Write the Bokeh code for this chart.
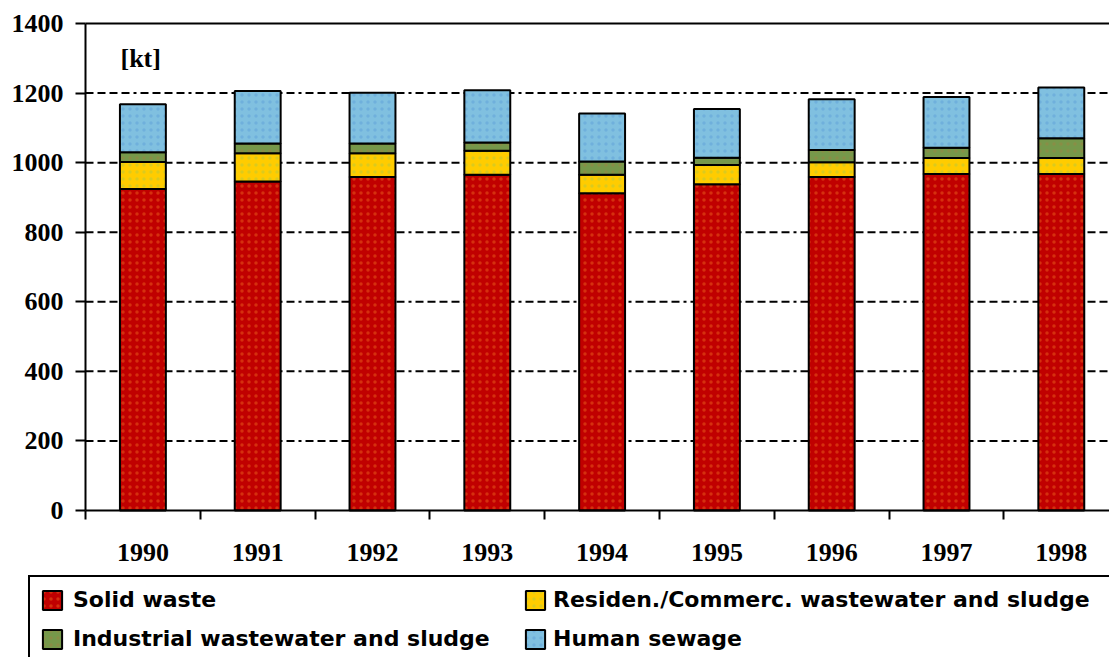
from bokeh.plotting import figure
from bokeh.models import (FixedTicker, Legend, LegendItem, Label, Range1d,
                          BasicTickFormatter)
from bokeh.embed import file_html
from bokeh.resources import INLINE

# ---- data ----
years = [1990, 1991, 1992, 1993, 1994, 1995, 1996, 1997, 1998]
solid_waste = [924, 946, 959, 965, 912, 938, 959, 967, 967]
residen_commerc = [78, 81, 68, 69, 53, 55, 42, 46, 46]
industrial = [28, 28, 28, 24, 38, 21, 35, 30, 57]
human_sewage = [138, 151, 146, 150, 138, 140, 146, 146, 146]
series_names = ["Solid waste", "Residen./Commerc. wastewater and sludge",
                "Industrial wastewater and sludge", "Human sewage"]
series_keys = ["solid", "residen", "industrial", "human"]
colors = ["#C00000", "#FFCC00", "#76984A", "#80C0E0"]
dot_colors = ["#F06A20", "#B0C840", "#A08040", "#5A9ED8"]
y_ticks = [0, 200, 400, 600, 800, 1000, 1200, 1400]
unit_label = "[kt]"

data = dict(year=years, solid=solid_waste, residen=residen_commerc,
            industrial=industrial, human=human_sewage)

# ---- layout (pixels) ----
W, H = 1109, 657
axis_left_px = 85          # y axis position
cat_px = 114.8             # width of one category
top_px, zero_px = 23, 510  # pixel rows of 1400 and 0
px_per_unit = (zero_px - top_px) / y_ticks[-1]

x_start = years[0] - 0.5 - axis_left_px / cat_px
x_end = x_start + W / cat_px
y_end = y_ticks[-1] + top_px / px_per_unit
y_start = -(H - zero_px) / px_per_unit

p = figure(width=W, height=H, output_backend="svg", toolbar_location=None,
           x_range=Range1d(x_start, x_end), y_range=Range1d(y_start, y_end),
           min_border=0)
p.outline_line_color = None
p.background_fill_color = "white"
p.border_fill_color = "white"
p.xgrid.visible = False
p.ygrid.visible = False

# grid lines and top border (start at the y axis)
grid_vals = y_ticks[1:-1]
p.segment(x0=[years[0] - 0.5] * len(grid_vals), x1=[x_end] * len(grid_vals),
          y0=grid_vals, y1=grid_vals, line_color="black", line_width=2,
          line_dash="8 4 8 4 8 4 8 4 3 4")
p.segment(x0=[years[0] - 0.5], x1=[x_end], y0=[y_ticks[-1]], y1=[y_ticks[-1]],
          line_color="black", line_width=2)

renderers = p.vbar_stack(series_keys, x="year", width=0.4, source=data,
                         fill_color=colors, line_color="black", line_width=2,
                         hatch_pattern="dot", hatch_color=dot_colors,
                         hatch_alpha=0.45, hatch_scale=7, hatch_weight=1.2)

# x axis: labels at centers, ticks at boundaries
xa = p.xaxis[0]
xa.fixed_location = 0
xa.bounds = (years[0] - 0.5, x_end)
xa.ticker = FixedTicker(ticks=years, minor_ticks=[y - 0.5 for y in years])
xa.formatter = BasicTickFormatter(use_scientific=False)
xa.major_tick_out = 0
xa.major_tick_in = 0
xa.minor_tick_out = 9
xa.minor_tick_in = 0
xa.minor_tick_line_width = 2
xa.minor_tick_line_color = "black"
xa.axis_line_width = 2
xa.axis_line_color = "black"
xa.major_label_standoff = 24
xa.major_label_text_font = "Liberation Serif"
xa.major_label_text_font_style = "bold"
xa.major_label_text_font_size = "26px"
xa.major_label_text_color = "black"

ya = p.yaxis[0]
ya.fixed_location = years[0] - 0.5
ya.bounds = (0, y_ticks[-1])
ya.ticker = FixedTicker(ticks=y_ticks)
ya.major_tick_out = 10
ya.major_tick_in = 0
ya.major_tick_line_width = 2
ya.minor_tick_line_color = None
ya.axis_line_width = 2
ya.axis_line_color = "black"
ya.major_label_standoff = 12
ya.major_label_text_font = "Liberation Serif"
ya.major_label_text_font_style = "bold"
ya.major_label_text_font_size = "26px"
ya.major_label_text_color = "black"

p.add_layout(Label(x=years[0] - 0.5 + 35 / cat_px, y=1300, text=unit_label,
                   text_font="Liberation Serif", text_font_style="bold",
                   text_font_size="26px", text_baseline="middle",
                   text_color="black"))

common = dict(glyph_width=24, glyph_height=24, label_height=20, spacing=14,
              padding=10, margin=0, label_text_font="DejaVu Sans",
              label_text_font_style="bold", label_text_font_size="22px",
              label_text_color="black", orientation="vertical")

leg_a = Legend(items=[LegendItem(label=series_names[0], renderers=[renderers[0]]),
                      LegendItem(label=series_names[2], renderers=[renderers[2]])],
               location=(28, -6), label_standoff=9, label_width=1040,
               border_line_color="black", border_line_width=2,
               border_line_alpha=1.0,
               background_fill_color="white", background_fill_alpha=1.0,
               **common)
leg_b = Legend(items=[LegendItem(label=series_names[1], renderers=[renderers[1]]),
                      LegendItem(label=series_names[3], renderers=[renderers[3]])],
               location=(523, 6), label_standoff=6,
               border_line_color=None, background_fill_alpha=0.0,
               **common)
p.add_layout(leg_a)
p.add_layout(leg_b)

open("out.html", "w").write(file_html(p, INLINE))
